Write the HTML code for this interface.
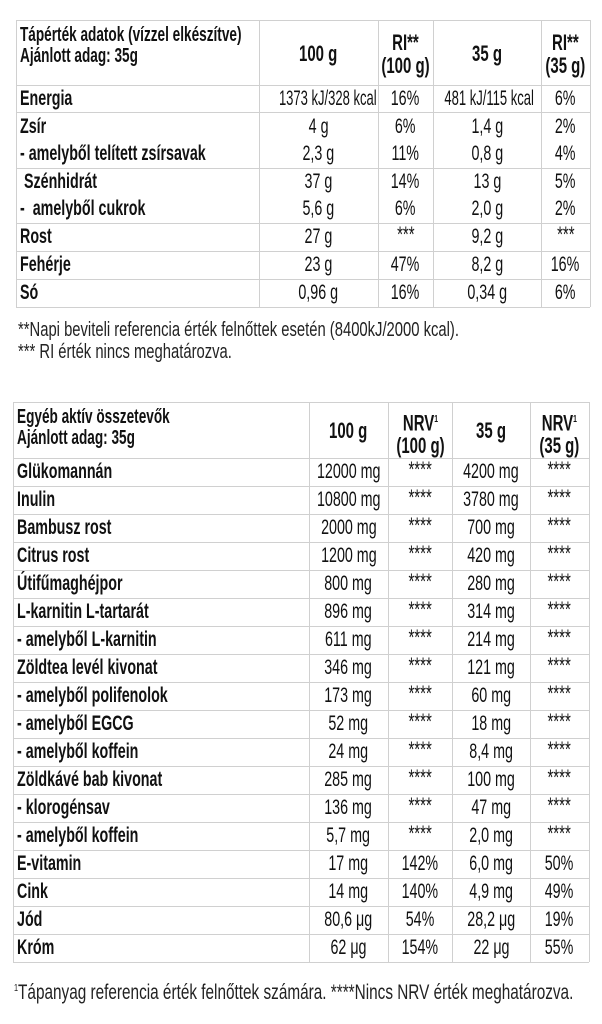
<!DOCTYPE html>
<html><head><meta charset="utf-8">
<style>
body{margin:0;width:602px;height:1024px;background:#fff;position:relative;overflow:hidden;font-family:"Liberation Sans",sans-serif;color:#111}
.c{position:absolute;white-space:nowrap;font-size:21px;line-height:1;}
.s{display:inline-block;transform:scaleX(0.68);}
.l .s{transform-origin:left center}
.m .s{transform-origin:center center}
.b{font-weight:bold}
.hl{position:absolute;height:1px;background:#d0d0d0}
.vl{position:absolute;width:1px;background:#d0d0d0}
</style></head><body>
<div id="t1"></div><div id="t2"></div>
<div class="c l" style="left:18px;top:320px;font-size:20px;color:#222"><span class="s" style="transform:scaleX(0.74)">**Napi beviteli referencia érték felnőttek esetén (8400kJ/2000 kcal).</span></div>
<div class="c l" style="left:18px;top:342px;font-size:20px;color:#222"><span class="s" style="transform:scaleX(0.74)">*** RI érték nincs meghatározva.</span></div>
<div class="c l" style="left:14px;top:982px;font-size:21px;color:#222"><span class="s" style="transform:scaleX(0.73)"><sup style="font-size:10px">1</sup>Tápanyag referencia érték felnőttek számára. ****Nincs NRV érték meghatározva.</span></div>
<script>
function build(cols,rowsY,rows,borders,header){
 let h='';
 const L=cols[0],R=cols[cols.length-1];
 borders.forEach(y=>{h+=`<div class="hl" style="left:${L}px;width:${R-L}px;top:${y}px"></div>`});
 cols.forEach(x=>{h+=`<div class="vl" style="left:${x}px;top:${borders[0]}px;height:${borders[borders.length-1]-borders[0]}px"></div>`});
 const hy=borders[0], hb=borders[1];
 h+=`<div class="c l b" style="left:${L+4}px;top:${hy+5}px;font-size:20px;line-height:21px"><span class="s">${header[0]}</span></div>`;
 for(let i=1;i<5;i++){
  const cx=(cols[i]+cols[i+1])/2;
  h+=`<div class="c m b" style="left:${cx-60}px;width:120px;text-align:center;top:${(hy+hb)/2-(header[i].includes('<br>')?22:11)}px;font-size:22px;line-height:23px"><span class="s">${header[i]}</span></div>`;
 }
 rows.forEach((r,k)=>{
  const y=rowsY[k];
  h+=`<div class="c l b" style="left:${L+4}px;top:${y-11}px"><span class="s">${r[0]}</span></div>`;
  for(let i=1;i<5;i++){
   const cx=(cols[i]+cols[i+1])/2;
   const st=r[i].startsWith('*');
   const kc=r[i].includes('kcal');
   h+=`<div class="c m" style="left:${cx-70}px;width:140px;text-align:center;top:${y-11+(st?-2:0)}px;${st?'font-size:22px;':''}"><span class="s"${kc?' style="transform:scaleX(0.62)"':''}>${r[i]}</span></div>`;
  }
 });
 return h;
}
const t1rows=[["Energia","1373 kJ/328 kcal","16%","481 kJ/115 kcal","6%"],["Zsír","4 g","6%","1,4 g","2%"],["- amelyből telített zsírsavak","2,3 g","11%","0,8 g","4%"],["&nbsp;Szénhidrát","37 g","14%","13 g","5%"],["- &nbsp;amelyből cukrok","5,6 g","6%","2,0 g","2%"],["Rost","27 g","***","9,2 g","***"],["Fehérje","23 g","47%","8,2 g","16%"],["Só","0,96 g","16%","0,34 g","6%"]];
document.getElementById('t1').innerHTML=build([16,259,378,433,541,590],[99,127,154,182,209,237,265,293],t1rows,[20,85,112,168,223,251,279,307],["Tápérték adatok (vízzel elkészítve)<br>Ajánlott adag: 35g","100 g","RI**<br>(100 g)","35 g","RI**<br>(35 g)"]);
const t2data=[["Glükomannán","12000 mg","****","4200 mg","****"],["Inulin","10800 mg","****","3780 mg","****"],["Bambusz rost","2000 mg","****","700 mg","****"],["Citrus rost","1200 mg","****","420 mg","****"],["Útifűmaghéjpor","800 mg","****","280 mg","****"],["L-karnitin L-tartarát","896 mg","****","314 mg","****"],["- amelyből L-karnitin","611 mg","****","214 mg","****"],["Zöldtea levél kivonat","346 mg","****","121 mg","****"],["- amelyből polifenolok","173 mg","****","60 mg","****"],["- amelyből EGCG","52 mg","****","18 mg","****"],["- amelyből koffein","24 mg","****","8,4 mg","****"],["Zöldkávé bab kivonat","285 mg","****","100 mg","****"],["- klorogénsav","136 mg","****","47 mg","****"],["- amelyből koffein","5,7 mg","****","2,0 mg","****"],["E-vitamin","17 mg","142%","6,0 mg","50%"],["Cink","14 mg","140%","4,9 mg","49%"],["Jód","80,6 μg","54%","28,2 μg","19%"],["Króm","62 μg","154%","22 μg","55%"]];
const ys=[],bs=[402,458];
for(let k=0;k<18;k++){ys.push(458+28*k+14);bs.push(458+28*(k+1));}
document.getElementById('t2').innerHTML=build([13,309,388,452,530,589],ys,t2data,bs,["Egyéb aktív összetevők<br>Ajánlott adag: 35g","100 g","NRV<sup style='font-size:10px'>1</sup><br>(100 g)","35 g","NRV<sup style='font-size:10px'>1</sup><br>(35 g)"]);
</script>
</body></html>
